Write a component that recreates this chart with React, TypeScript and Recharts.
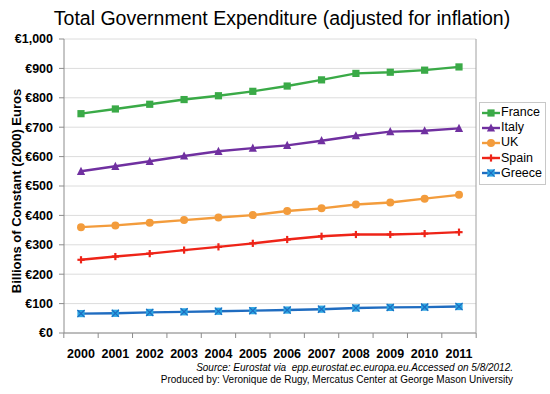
import React from "react";
import { LineChart, Line, XAxis, YAxis, CartesianGrid } from "recharts";

const years = ["2000", "2001", "2002", "2003", "2004", "2005", "2006", "2007", "2008", "2009", "2010", "2011"];
const france = [746, 762, 778, 794, 807, 822, 840, 861, 883, 887, 894, 905];
const italy = [550, 567, 584, 602, 618, 629, 638, 654, 671, 685, 688, 696];
const uk = [360, 366, 375, 384, 393, 401, 415, 424, 437, 444, 457, 470];
const spain = [249, 260, 270, 282, 293, 305, 318, 329, 335, 335, 338, 343];
const greece = [66, 67, 70, 72, 74, 76, 78, 81, 85, 87, 88, 90];
const yTicks = [0, 100, 200, 300, 400, 500, 600, 700, 800, 900, 1000];

const series = [
  { name: "France", values: france, color: "#3aaa47", marker: "square", markerColor: "#3aaa47" },
  { name: "Italy", values: italy, color: "#7030a0", marker: "triangle", markerColor: "#7030a0" },
  { name: "UK", values: uk, color: "#f39c3c", marker: "circle", markerColor: "#f39c3c" },
  { name: "Spain", values: spain, color: "#ee2418", marker: "plus", markerColor: "#ee2418" },
  { name: "Greece", values: greece, color: "#1f6cc0", marker: "cross", markerColor: "#2aa6e2" },
];

const data = years.map((y, i) => {
  const row: Record<string, string | number> = { year: y };
  series.forEach((s) => (row[s.name] = s.values[i]));
  return row;
});

const FONT = "'Liberation Sans', Arial, Helvetica, sans-serif";
const W = 550;
const H = 394;
const M = { top: 39, right: 73, bottom: 31, left: 0 };
const Y_W = 64;
const X_H = 30;
const PAD = 17;
const plotW = W - M.left - M.right - Y_W - 1;
const step = (plotW - 2 * PAD) / (years.length - 1);

function Marker({ kind, cx, cy, color, line }: { kind: string; cx: number; cy: number; color: string; line: string }) {
  const r = 3.6;
  if (kind === "square") return <rect x={cx - r} y={cy - r} width={r * 2} height={r * 2} fill={color} />;
  if (kind === "triangle")
    return <polygon points={`${cx},${cy - r - 1} ${cx + r + 0.5},${cy + r} ${cx - r - 0.5},${cy + r}`} fill={color} />;
  if (kind === "circle") return <circle cx={cx} cy={cy} r={r + 0.4} fill={color} />;
  if (kind === "plus")
    return (
      <g stroke={color} strokeWidth={2.2}>
        <line x1={cx - r} y1={cy} x2={cx + r} y2={cy} />
        <line x1={cx} y1={cy - r} x2={cx} y2={cy + r} />
      </g>
    );
  return (
    <g>
      <rect x={cx - r} y={cy - r} width={r * 2} height={r * 2} fill={color} />
      <g stroke={line} strokeWidth={1.2}>
        <line x1={cx - r} y1={cy - r} x2={cx + r} y2={cy + r} />
        <line x1={cx - r} y1={cy + r} x2={cx + r} y2={cy - r} />
      </g>
    </g>
  );
}

function XTick(props: any) {
  const { x, y, payload, index } = props;
  return (
    <g>
      <line x1={x - step / 2} y1={y} x2={x - step / 2} y2={y + 5} stroke="#8c8c8c" />
      {index === years.length - 1 && <line x1={x + step / 2} y1={y} x2={x + step / 2} y2={y + 5} stroke="#8c8c8c" />}
      <text x={x} y={y + 25} textAnchor="middle" fontFamily={FONT} fontWeight="bold" fontSize={12.5} fill="#000">
        {payload.value}
      </text>
    </g>
  );
}

function LegendBox() {
  return (
    <div
      style={{
        position: "absolute",
        left: 479,
        top: 102,
        width: 63,
        border: "1px solid #c8c8c8",
        padding: "2px 0 3px 2px",
        background: "#fff",
        fontFamily: FONT,
        fontSize: 12.5,
        lineHeight: "15.2px",
      }}
    >
      {series.map((s) => (
        <div key={s.name} style={{ display: "flex", alignItems: "center", whiteSpace: "nowrap" }}>
          <svg width={18} height={12} style={{ marginRight: 1 }}>
            <line x1={0} y1={6} x2={18} y2={6} stroke={s.color} strokeWidth={2.4} />
            <Marker kind={s.marker} cx={9} cy={6} color={s.markerColor} line={s.color} />
          </svg>
          <span>{s.name}</span>
        </div>
      ))}
    </div>
  );
}

export default function App() {
  return (
    <div style={{ position: "absolute", left: 0, top: 0, width: W, height: H, background: "#fff", fontFamily: FONT }}>
      <div style={{ position: "absolute", left: 0, top: 7, width: 564, textAlign: "center", fontSize: 19.5, color: "#000" }}>
        Total Government Expenditure (adjusted for inflation)
      </div>
      <div
        style={{
          position: "absolute",
          left: 16,
          top: 191,
          transform: "translate(-50%, -50%) rotate(-90deg)",
          whiteSpace: "nowrap",
          fontWeight: "bold",
          fontSize: 13,
        }}
      >
        Billions of Constant (2000) Euros
      </div>
      <LineChart width={W} height={H} data={data} margin={M}>
        <CartesianGrid vertical={false} stroke="#dcdcdc" />
        <XAxis
          dataKey="year"
          height={X_H}
          padding={{ left: PAD, right: PAD }}
          tickLine={false}
          tickSize={0}
          tickMargin={0}
          interval={0}
          axisLine={{ stroke: "#8c8c8c" }}
          tick={<XTick />}
        />
        <YAxis
          width={Y_W}
          domain={[0, 1000]}
          ticks={yTicks}
          interval={0}
          tickSize={5}
          tickMargin={6}
          axisLine={{ stroke: "#8c8c8c" }}
          tickLine={{ stroke: "#8c8c8c" }}
          tick={{ fontFamily: FONT, fontWeight: "bold", fontSize: 12.5, fill: "#000" }}
          tickFormatter={(v: number) => `€${v.toLocaleString("en-US")}`}
        />
        <YAxis yAxisId="r" orientation="right" width={1} domain={[0, 1000]} tick={false} tickLine={false} axisLine={{ stroke: "#a0a0a0" }} />
        {series.map((s) => (
          <Line
            key={s.name}
            type="linear"
            dataKey={s.name}
            stroke={s.color}
            strokeWidth={2.4}
            isAnimationActive={false}
            dot={(p: any) => <Marker key={`${s.name}-${p.index}`} kind={s.marker} cx={p.cx} cy={p.cy} color={s.markerColor} line={s.color} />}
            activeDot={false}
          />
        ))}
      </LineChart>
      <LegendBox />
      <div style={{ position: "absolute", right: 37, top: 362, fontSize: 10, fontStyle: "italic", textAlign: "right", whiteSpace: "nowrap" }}>
        Source: Eurostat via&nbsp; epp.eurostat.ec.europa.eu.Accessed on 5/8/2012.
      </div>
      <div style={{ position: "absolute", right: 37, top: 374, fontSize: 10, textAlign: "right", whiteSpace: "nowrap" }}>
        Produced by: Veronique de Rugy, Mercatus Center at George Mason University
      </div>
    </div>
  );
}
